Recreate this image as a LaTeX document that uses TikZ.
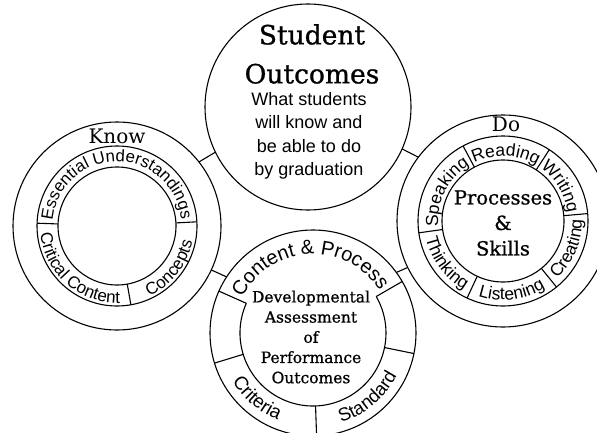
\documentclass[tikz,border=0pt]{standalone}
\usepackage{fontspec}
\setmainfont{DejaVu Serif}
\setsansfont{Liberation Sans}
\newfontfamily\headfont[FakeBold=0.9]{DejaVu Serif}
\usepackage{tikz}
\usetikzlibrary{decorations.text}

% text set along an arc: centre, start, end, radius, size, text
\newcommand{\arclabel}[6]{%
   \path[decorate, decoration={text along path, text align=center,
      text={|\sffamily\fontsize{#5}{#5}\selectfont|#6}}]
      (#1) ++(#2:#4) arc[start angle=#2, end angle=#3, radius=#4];}

\begin{document}
\begin{tikzpicture}[x=1pt, y=1pt, line width=1.1pt,
   ring/.style={draw, circle, inner sep=0pt, outer sep=0pt}]
   \useasboundingbox (0,0) rectangle (597,432);

   % the four big circles
   \node[ring, minimum size=206pt] (so) at (308,325) {};
   \node[ring, minimum size=208pt] (know) at (117,206) {};
   \node[ring, minimum size=212pt] (do) at (503,211) {};
   \node[ring, minimum size=206pt] (cp) at (313,99) {};

   % short links between them
   \draw (so.206) -- (know.38);
   \draw (so.336) -- (do.143);
   \draw (know.335) -- (cp.147);
   \draw (do.206) -- (cp.36);

   % Student Outcomes
   \node[font=\headfont\fontsize{26.5}{39}\selectfont, align=center] (sotitle) at (312,378) {Student\\Outcomes};
   \node[font=\sffamily\fontsize{18}{23.5}\selectfont, align=center] (sotext) at (309,296)
      {What students\\will know and\\be able to do\\by graduation};

   % Know
   \draw (know.center) circle[radius=80];
   \draw (know.center) circle[radius=59];
   \foreach \a in {178,3,280}
      \draw (know.center) ++(\a:59) -- ++(\a:21);
   \node[font=\fontsize{20}{20}\selectfont] (knowlbl) at (117,296) {Know};
   \arclabel{know.center}{178}{3}{64.5}{16.8}{Essential Understandings}
   \arclabel{know.center}{178}{280}{77}{17}{Critical Content}
   \arclabel{know.center}{280}{363}{77}{17}{Concepts}

   % Do
   \draw (do.center) circle[radius=85];
   \draw (do.center) circle[radius=61];
   \foreach \a in {118,57,5,309,245,188}
      \draw (do.center) ++(\a:61) -- ++(\a:24);
   \node[font=\fontsize{20}{20}\selectfont] (dolbl) at (506,308) {Do};
   \node[font=\headfont\fontsize{19.5}{25.5}\selectfont, align=center] (ps) at (503,209) {Processes\\\&\\Skills};
   \arclabel{do.center}{118}{57}{65}{17.5}{Reading}
   \arclabel{do.center}{57}{5}{65}{17.5}{Writing}
   \arclabel{do.center}{188}{118}{65}{17.5}{Speaking}
   \arclabel{do.center}{188}{245}{79}{17.5}{Thinking}
   \arclabel{do.center}{245}{309}{79}{17.5}{Listening}
   \arclabel{do.center}{309}{365}{79}{17.5}{Creating}

   % Content & Process
   \draw (cp.center) ++(156:73) arc[start angle=156, end angle=390, radius=73];
   \foreach \a in {156,30,197,272,348.5}
      \draw (cp.center) ++(\a:73) -- ++(\a:30);
   \node[font=\headfont\fontsize{15.5}{20.2}\selectfont, align=center] (dapo) at (311,95)
      {Developmental\\Assessment\\of\\Performance\\Outcomes};
   \arclabel{cp.center}{158}{28}{79}{20}{Content {\&} Process}
   \arclabel{cp.center}{197}{262}{94}{19}{Criteria}
   \arclabel{cp.center}{272}{348.5}{94}{18.5}{Standard}
\end{tikzpicture}
\end{document}
